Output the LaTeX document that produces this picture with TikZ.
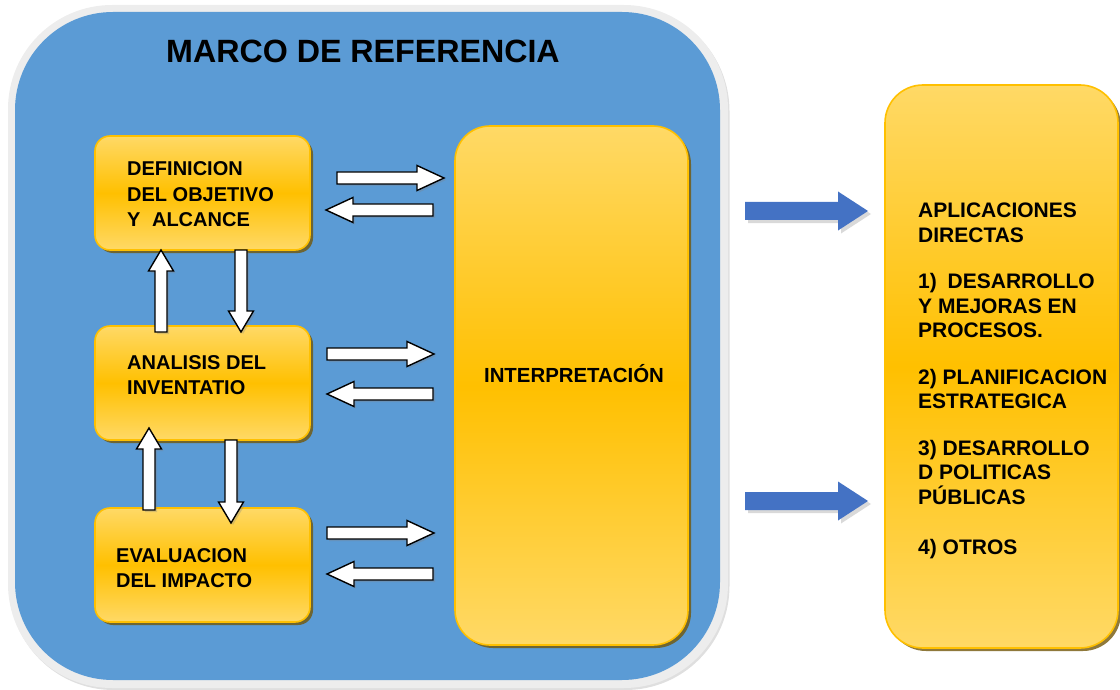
\documentclass[tikz,border=0pt]{standalone}
\usepackage{fontspec}
\setmainfont{Liberation Sans}
\usetikzlibrary{shadows}
\definecolor{blueback}{HTML}{5B9BD5}
\definecolor{framegrey}{HTML}{EDEDED}
\definecolor{ylight}{HTML}{FFD966}
\definecolor{ymid}{HTML}{FFC000}
\definecolor{yborder}{HTML}{FFC000}
\definecolor{yshadow}{RGB}{115,88,10}
\definecolor{barrow}{HTML}{4472C4}
\newcommand{\rarr}[3]{\draw[warrow] (#1,{#3-6}) -- ({#2-27},{#3-6}) -- ({#2-27},{#3-12.5}) -- (#2,#3) -- ({#2-27},{#3+12.5}) -- ({#2-27},{#3+6}) -- (#1,{#3+6}) -- cycle;}
\newcommand{\larr}[3]{\draw[warrow] (#1,{#3-6}) -- ({#2+27},{#3-6}) -- ({#2+27},{#3-12.5}) -- (#2,#3) -- ({#2+27},{#3+12.5}) -- ({#2+27},{#3+6}) -- (#1,{#3+6}) -- cycle;}
\newcommand{\uarr}[3]{\draw[warrow] ({#1-6},#2) -- ({#1-6},{#3+21}) -- ({#1-12.5},{#3+21}) -- (#1,#3) -- ({#1+12.5},{#3+21}) -- ({#1+6},{#3+21}) -- ({#1+6},#2) -- cycle;}
\newcommand{\darr}[3]{\draw[warrow] ({#1-6},#2) -- ({#1-6},{#3-21}) -- ({#1-12.5},{#3-21}) -- (#1,#3) -- ({#1+12.5},{#3-21}) -- ({#1+6},{#3-21}) -- ({#1+6},#2) -- cycle;}
\newcommand{\barr}[3]{\fill[bluearrow] (#1,{#3-9}) -- ({#2-30},{#3-9}) -- ({#2-30},{#3-19.5}) -- (#2,#3) -- ({#2-30},{#3+19.5}) -- ({#2-30},{#3+9}) -- (#1,{#3+9}) -- cycle;}
\begin{document}
\begin{tikzpicture}[x=1pt,y=-1pt,
  ybox/.style={draw=yborder, line width=1.6pt, top color=ylight, bottom color=ylight, middle color=ymid,
    drop shadow={shadow xshift=3pt, shadow yshift=-3pt, fill=yshadow, opacity=.8}},
  smallbox/.style={ybox, rounded corners=15pt, minimum width=215pt, minimum height=114pt, inner sep=0pt},
  tallbox/.style={ybox, rounded corners=36pt, minimum width=233pt, inner sep=0pt},
  warrow/.style={draw=black, fill=white, line width=1.4pt, line join=miter,
    drop shadow={shadow xshift=2pt, shadow yshift=-2pt, opacity=.3}},
  bluearrow/.style={fill=barrow, drop shadow={shadow xshift=3pt, shadow yshift=-3pt, opacity=.3}},
  boxtext/.style={anchor=base west, inner sep=0pt, font=\bfseries\fontsize{20}{25.5}\selectfont},
]
\useasboundingbox (0,0) rectangle (1120,690);
% main frame
\node[fill=framegrey, rounded corners=104pt, minimum width=720pt, minimum height=683pt, inner sep=0pt,
  drop shadow={shadow xshift=1.5pt, shadow yshift=-2pt, opacity=.25}] (frame) at (368,346.5) {};
\node[fill=blueback, rounded corners=98pt, minimum width=705pt, minimum height=668pt, inner sep=0pt] (marco) at (367.5,346) {};
\node[anchor=base, inner sep=0pt, font=\bfseries\fontsize{32.2}{36}\selectfont] (title) at (363,63) {MARCO DE REFERENCIA};
% left boxes
\node[smallbox] (def) at (202.5,193) {};
\node[smallbox] (ana) at (202.5,383) {};
\node[smallbox] (eva) at (202.5,565) {};
\node[boxtext] (deft) at (127,176) {\parbox[t]{200pt}{\raggedright DEFINICION\\DEL OBJETIVO\\Y\hspace{6pt} ALCANCE}};
\node[boxtext] (anat) at (127,369) {\parbox[t]{200pt}{\raggedright ANALISIS DEL\\INVENTATIO}};
\node[boxtext] (evat) at (116,562) {\parbox[t]{200pt}{\raggedright EVALUACION\\DEL IMPACTO}};
% interpretation
\node[tallbox, rounded corners=35pt, minimum height=519pt] (interp) at (571.5,385.5) {};
\node[anchor=base, inner sep=0pt, font=\bfseries\fontsize{20.4}{24}\selectfont] (interpt) at (574,382) {INTERPRETACIÓN};
% applications
\node[tallbox, rounded corners=38pt, minimum height=563pt] (apl) at (1001.5,366.5) {};
\node[anchor=base west, inner sep=0pt, font=\bfseries\fontsize{21}{24.5}\selectfont] (aplt) at (918,218)
  {\parbox[t]{200pt}{\raggedright APLICACIONES\\DIRECTAS\\[22pt]1)\hspace{5pt} DESARROLLO\\Y MEJORAS EN\\PROCESOS.\\[22pt]2) PLANIFICACION\\ESTRATEGICA\\[22pt]3) DESARROLLO\\D POLITICAS\\PÚBLICAS\\[25.5pt]4) OTROS}};
% horizontal white arrows
\rarr{337}{444}{178}
\larr{433}{326}{210}
\rarr{327}{434}{354}
\larr{433}{327}{394}
\rarr{327}{434}{533}
\larr{433}{327}{574}
% vertical white arrows
\uarr{161}{332}{250}
\darr{241}{250}{332}
\uarr{149}{510}{428}
\darr{231}{440}{523}
% blue arrows
\barr{745}{868}{211}
\barr{745}{868}{501}
\end{tikzpicture}
\end{document}
